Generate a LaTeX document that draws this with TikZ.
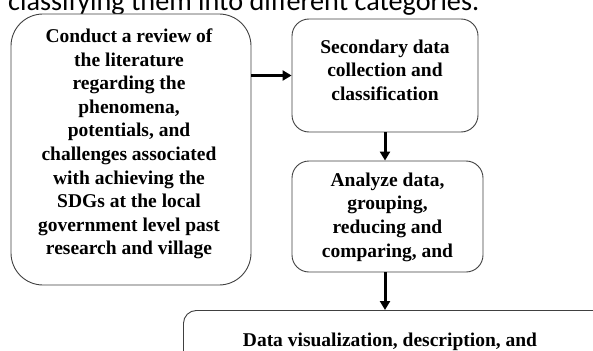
\documentclass[tikz,border=0pt]{standalone}
\usepackage{fontspec}
\setmainfont{Liberation Serif}
\newfontfamily\topfont{Carlito}
\usetikzlibrary{arrows.meta,calc}
\tikzset{
  box/.style={draw=black!75, line width=0.9pt, fill=white, inner sep=0pt},
  boxtext/.style={align=center, inner sep=0pt, font=\bfseries\fontsize{19.5}{23.6}\selectfont},
  arr/.style={line width=3pt, -{Triangle[length=9pt,width=10pt]}}
}
\begin{document}
\begin{tikzpicture}[x=1pt,y=-1pt]
\useasboundingbox (0,0) rectangle (593,350);
\clip (0,0) rectangle (593,350);
% top cut-off text
\node[anchor=base west, inner sep=0pt, font=\topfont\fontsize{28.2}{30}\selectfont] (toptext) at (8,11) {classifying them into different categories.};
% boxes
\node[box, rounded corners=32pt, minimum width=240pt, minimum height=271pt] (lb) at (131,149.5) {};
\node[box, rounded corners=17pt, minimum width=186pt, minimum height=113pt] (tb) at (385,75.5) {};
\node[box, rounded corners=17pt, minimum width=191pt, minimum height=111pt] (mb) at (387.5,216.5) {};
\node[box, rounded corners=13pt, minimum width=440pt, minimum height=90pt, anchor=north west] (bb) at (183,310) {};
% texts
\node[boxtext] (lt) at (129,144) {Conduct a review of\\the literature\\regarding the\\phenomena,\\potentials, and\\challenges associated\\with achieving the\\SDGs at the local\\government level past\\research and village};
\node[boxtext] (tt) at (385,70) {Secondary data\\collection and\\classification};
\node[boxtext] (mt) at (387.5,217) {Analyze data,\\grouping,\\reducing and\\comparing, and};
\node[boxtext, anchor=base] (bt) at (390,346) {Data visualization, description, and};
% arrows
\draw[arr] (lb.east |- tb.west) -- (tb.west);
\draw[arr] (tb.south) -- (tb.south |- mb.north);
\draw[arr] (mb.south -| tb.south) -- (tb.south |- bb.north);
\end{tikzpicture}
\end{document}
